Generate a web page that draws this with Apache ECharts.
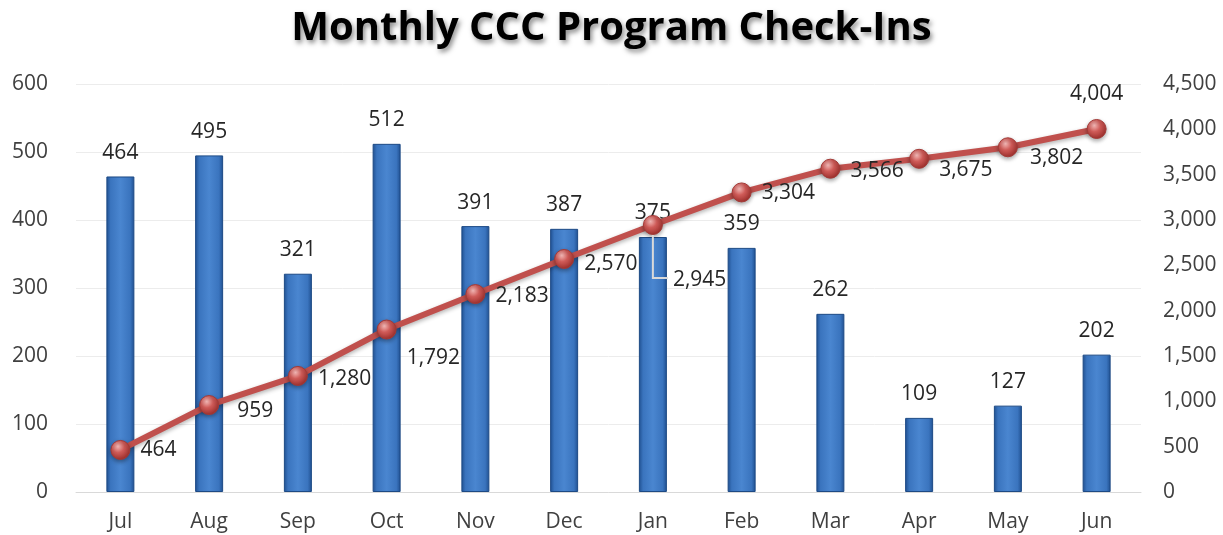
<!DOCTYPE html>
<html><head><meta charset="utf-8">
<script src="https://cdn.jsdelivr.net/npm/echarts@6/dist/echarts.min.js"></script>
<style>html,body{margin:0;padding:0;background:#fff}#c{width:1223px;height:535px}</style>
</head><body><div id="c"></div>
<script>
var categories = ['Jul','Aug','Sep','Oct','Nov','Dec','Jan','Feb','Mar','Apr','May','Jun'];
var monthly = [464,495,321,512,391,387,375,359,262,109,127,202];
var cumulative = [464,959,1280,1792,2183,2570,2945,3304,3566,3675,3802,4004];
var titleText = 'Monthly CCC Program Check-Ins';

var FONT = '"Open Sans", "Noto Sans", sans-serif';
var chart = echarts.init(document.getElementById('c'));

var lineLabelOffsets = [[0,0],[8,6],[0,3],[0,28],[0,2],[0,5],[0,0],[0,1],[0,2],[0,11],[2,11],[0,0]];
var lineData = cumulative.map(function(v,i){
  var d = {value:v, label:{offset:lineLabelOffsets[i]}};
  if (i === 11) d.label = {position:'top', offset:[0,-4]};
  if (i === 6) d.label = {position:'right', offset:[0,55]};
  return d;
});

chart.setOption({
  animation:false,
  title:{text:titleText,left:'center',top:4,
    textStyle:{fontFamily:FONT,fontSize:40,fontWeight:'bold',color:'#000',
      textShadowColor:'rgba(0,0,0,0.45)',textShadowBlur:5,textShadowOffsetX:2,textShadowOffsetY:3}},
  grid:{left:76,right:82,top:84,bottom:43,containLabel:false},
  xAxis:{type:'category',data:categories,
    axisLine:{lineStyle:{color:'#d9d9d9',width:1}},axisTick:{show:false},
    axisLabel:{fontFamily:FONT,fontSize:21,color:'#404040',margin:20}},
  yAxis:[
    {type:'value',min:0,max:600,interval:100,position:'left',
     axisLine:{show:false},axisTick:{show:false},
     axisLabel:{fontFamily:FONT,fontSize:21,color:'#404040',margin:28},
     splitLine:{lineStyle:{color:'#ececec',width:1}}},
    {type:'value',min:0,max:4500,interval:500,position:'right',
     axisLine:{show:false},axisTick:{show:false},
     axisLabel:{fontFamily:FONT,fontSize:21,color:'#404040',margin:22,
       formatter:function(v){return v.toLocaleString('en-US');}},
     splitLine:{show:false}}
  ],
  series:[
    {type:'bar',data:monthly,barWidth:28,yAxisIndex:0,
     itemStyle:{color:new echarts.graphic.LinearGradient(0,0,1,0,[
       {offset:0,color:'#1f4f8f'},{offset:0.15,color:'#3a74be'},{offset:0.5,color:'#4a86d0'},
       {offset:0.85,color:'#3a74be'},{offset:1,color:'#1f4f8f'}]),
       borderColor:'#1d4a85',borderWidth:1},
     label:{show:true,position:'top',distance:13,fontFamily:FONT,fontSize:21,color:'#262626'}},
    {type:'line',data:lineData,yAxisIndex:1,z:5,
     lineStyle:{color:'#c0504d',width:6,shadowColor:'rgba(0,0,0,0.3)',shadowBlur:4,shadowOffsetY:2},
     symbol:'circle',symbolSize:19,
     itemStyle:{color:new echarts.graphic.RadialGradient(0.38,0.32,0.7,[
       {offset:0,color:'#f3b8b6'},{offset:0.45,color:'#cf5b58'},{offset:1,color:'#9e2f2c'}]),
       borderColor:'#a33a37',borderWidth:1,shadowColor:'rgba(0,0,0,0.35)',shadowBlur:4,shadowOffsetY:2},
     label:{show:true,position:'right',distance:10,fontFamily:FONT,fontSize:21,color:'#262626',
       formatter:function(p){return p.value.toLocaleString('en-US');}},
     labelLine:{show:false}}
  ]
});

// leader line for the Jan cumulative label, drawn from the data scale
(function(){
  var p = chart.convertToPixel({xAxisIndex:0,yAxisIndex:1},[6,cumulative[6]]);
  chart.setOption({graphic:[{type:'polyline',z:10,silent:true,
    shape:{points:[[p[0],p[1]+10],[p[0],p[1]+53],[p[0]+15,p[1]+53]]},
    style:{stroke:'#d9d9d9',lineWidth:2,fill:null}}]});
})();
</script></body></html>
